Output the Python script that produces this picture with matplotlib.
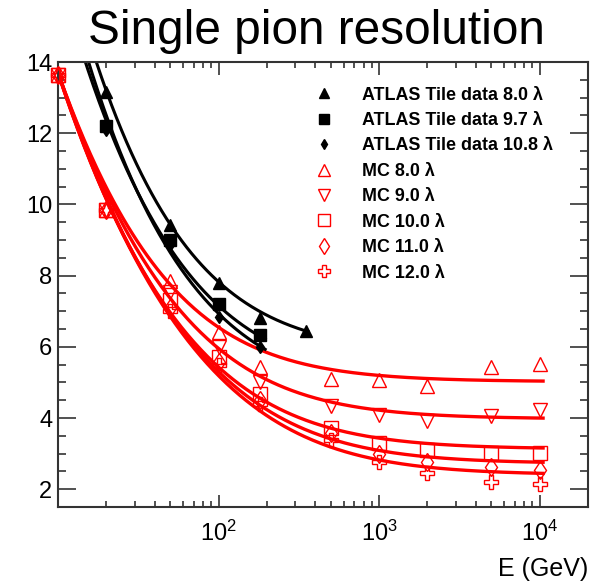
import numpy as np
import matplotlib
matplotlib.use('Agg')
import matplotlib.pyplot as plt
from matplotlib.ticker import LogLocator, MultipleLocator, NullFormatter, FixedLocator
from matplotlib.lines import Line2D

plt.rcParams['font.family'] = ['Liberation Sans', 'DejaVu Sans']
plt.rcParams['mathtext.fontset'] = 'custom'
plt.rcParams['mathtext.rm'] = 'Liberation Sans'
plt.rcParams['mathtext.it'] = 'Liberation Sans:italic'

# dados (energia em GeV, resolucao em %)
E_data = [20, 50, 100, 180]
E_tri = [20, 50, 100, 180, 350]
tile_80 = [13.17, 9.42, 7.79, 6.81, 6.45]
tile_97 = [12.2, 9.0, 7.2, 6.33]
tile_108 = [12.1, 8.86, 6.84, 6.0]

E_mc = [10, 20, 50, 100, 180, 500, 1000, 2000, 5000, 10000]
mc_80 = [13.63, 9.84, 7.85, 6.42, 5.43, 5.10, 5.07, 4.90, 5.43, 5.52]
mc_90 = [13.63, 9.84, 7.55, 6.00, 5.01, 4.34, 4.08, 3.92, 4.06, 4.22]
mc_100 = [13.63, 9.84, 7.31, 5.71, 4.67, 3.72, 3.30, 3.10, 3.02, 3.02]
mc_110 = [13.63, 9.84, 7.10, 5.57, 4.50, 3.58, 2.99, 2.76, 2.62, 2.54]
mc_120 = [13.63, 9.84, 7.00, 5.49, 4.39, 3.38, 2.76, 2.46, 2.20, 2.15]

# parametros dos ajustes: sigma = sqrt(a2/E + b2) - c/E
fit_a2_mc = [1888, 2142, 2091, 2230, 2285]
fit_b2_mc = [25.21, 15.79, 9.78, 7.40, 5.77]
fit_c_mc = [9.3, 14.7, 11.0, 14.8, 16.0]
fit_a2_tile = [2681, 2651, 2583]
fit_b2_tile = [33.7, 25.3, 21.65]
fit_c_tile = [-4.7, 4.4, -4.3]
fit_emax_tile = [360, 195, 195]

labels_tile = ['ATLAS Tile data 8.0 \u03bb', 'ATLAS Tile data 9.7 \u03bb', 'ATLAS Tile data 10.8 \u03bb']
labels_mc = ['MC 8.0 \u03bb', 'MC 9.0 \u03bb', 'MC 10.0 \u03bb', 'MC 11.0 \u03bb', 'MC 12.0 \u03bb']


def ajuste(E, a2, b2, c):
    return np.sqrt(a2 / E + b2) - c / E


fig = plt.figure(figsize=(6, 5.84), dpi=100)
ax = fig.add_axes([0.0967, 0.1318, 0.8833, 0.762])
ax.set_xscale('log')

# curvas de ajuste
for a2, b2, c in zip(fit_a2_mc, fit_b2_mc, fit_c_mc):
    ee = np.logspace(1, np.log10(10500), 300)
    ax.plot(ee, ajuste(ee, a2, b2, c), color='red', lw=2.4, zorder=2)
for a2, b2, c, emax in zip(fit_a2_tile, fit_b2_tile, fit_c_tile, fit_emax_tile):
    ee = np.logspace(1, np.log10(emax), 300)
    ax.plot(ee, ajuste(ee, a2, b2, c), color='black', lw=2.2, zorder=2)

# pontos
ax.plot(E_tri, tile_80, '^', color='black', ms=8, ls='none', zorder=3)
ax.plot(E_data, tile_97, 's', color='black', ms=8, ls='none', zorder=3)
ax.plot(E_data, tile_108, 'd', color='black', ms=6, ls='none', zorder=3)

mc_series = [mc_80, mc_90, mc_100, mc_110, mc_120]
mc_markers = ['^', 'v', 's', 'd', 'P']
for y, m in zip(mc_series, mc_markers):
    ax.plot(E_mc, y, m, mfc='none', mec='red', mew=1.0, ms=9.5, ls='none',
            zorder=3, clip_on=False)

ax.set_xlim(10, 2e4)
ax.set_ylim(1.5, 14)

ax.xaxis.set_major_locator(FixedLocator([100, 1000, 10000]))
ax.xaxis.set_minor_locator(LogLocator(base=10, subs=np.arange(2, 10), numticks=20))
ax.xaxis.set_minor_formatter(NullFormatter())
ax.yaxis.set_major_locator(MultipleLocator(2))
ax.yaxis.set_minor_locator(MultipleLocator(0.5))

ax.tick_params(which='both', direction='in', top=True, right=True, colors='#333333',
               labelcolor='black')
ax.tick_params(axis='y', which='major', length=13, width=1.2, labelsize=17, pad=4)
ax.tick_params(axis='y', which='minor', length=6, width=1.2)
ax.tick_params(axis='x', which='major', length=9, width=1.2, labelsize=17, pad=10)
ax.tick_params(axis='x', which='minor', length=4.5, width=1.2)
ax.set_yticks([2, 4, 6, 8, 10, 12, 14])
for s in ax.spines.values():
    s.set_linewidth(1.5)
    s.set_color('#333333')

ax.set_xlabel('E (GeV)', fontsize=18, loc='right', labelpad=8)
fig.text(0.528, 0.925, 'Single pion resolution', fontsize=34.4, ha='center', va='baseline')

# legenda
handles = [Line2D([], [], marker='^', color='black', ls='none', ms=7),
           Line2D([], [], marker='s', color='black', ls='none', ms=7),
           Line2D([], [], marker='d', color='black', ls='none', ms=5)]
for m in mc_markers:
    handles.append(Line2D([], [], marker=m, mfc='none', mec='red', mew=1.0, ls='none', ms=8))
leg = ax.legend(handles, labels_tile + labels_mc, loc='upper left',
                bbox_to_anchor=(0.461, 0.973), frameon=False,
                prop={'weight': 'bold', 'size': 12.9}, labelspacing=0.47,
                handlelength=1.0, handletextpad=1.63, borderpad=0.2)

fig.savefig('out.png', dpi=100)
